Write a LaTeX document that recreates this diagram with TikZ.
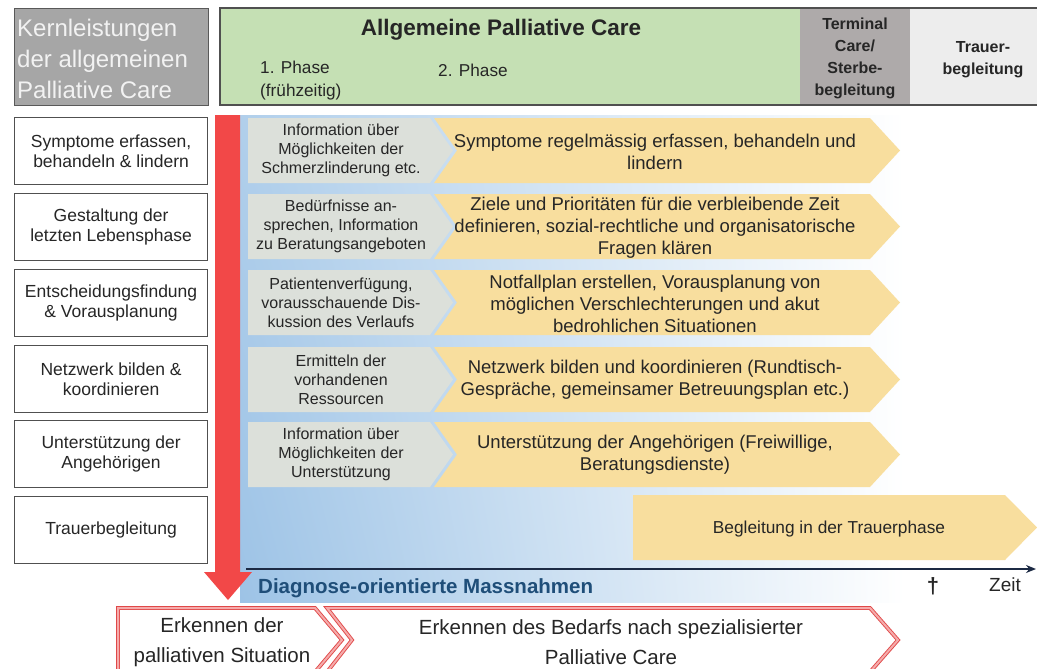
\documentclass[tikz,border=0pt]{standalone}
\usepackage{fontspec}
\setmainfont{Liberation Sans}
\usetikzlibrary{arrows.meta,shadings}
\definecolor{txt}{HTML}{262626}
\definecolor{hdgray}{HTML}{A6A6A6}
\definecolor{hdtext}{HTML}{F2F2F2}
\definecolor{frame}{HTML}{505050}
\definecolor{green1}{HTML}{C5E0B4}
\definecolor{termgray}{HTML}{AEAAAA}
\definecolor{trauergray}{HTML}{EDEDED}
\definecolor{redarrow}{HTML}{F24848}
\definecolor{blueA}{HTML}{9DC3E6}
\definecolor{yel}{HTML}{F8DE9E}
\definecolor{gch}{HTML}{DCE0DA}
\definecolor{navy}{HTML}{1F4E79}
\definecolor{axiscol}{HTML}{1C2A44}
\definecolor{redline}{HTML}{E04848}
\definecolor{pinkline}{HTML}{F5ABAB}
\tikzset{
  leftbox/.style={draw=frame, line width=1.2pt, fill=white, minimum width=193pt, minimum height=67pt, inner sep=0pt, align=center, text=txt, font=\fontsize{17.5}{20}\selectfont},
  graytext/.style={align=center, text=txt, inner sep=0pt, font=\fontsize{16}{19}\selectfont},
  yeltext/.style={align=center, text=txt, inner sep=0pt, font=\fontsize{18.5}{22}\selectfont},
  hdbold/.style={align=center, text=txt, inner sep=0pt, font=\bfseries\fontsize{16}{22}\selectfont},
  bottext/.style={align=center, text=txt, inner sep=0pt, font=\fontsize{20.5}{30}\selectfont},
  redshape/.style={draw=redline, double=pinkline, line width=0.9pt, double distance=2pt, fill=white, line join=miter},
}
\begin{document}
\begin{tikzpicture}[x=1pt,y=-1pt]
\useasboundingbox (0,0) rectangle (1037,669);
\clip (0,0) rectangle (1037,669);
\fill[white] (0,0) rectangle (1037,669);

% ---------- header ----------
\draw[fill=hdgray, draw=gray!70!black, line width=0.8pt] (14,8) rectangle (208,105);
\node[anchor=west, align=left, inner sep=0pt, text=hdtext, font=\fontsize{24}{31}\selectfont] (kern) at (17,59) {Kernleistungen\\der allgemeinen\\Palliative Care};

\fill[green1] (220,8) rectangle (800,105);
\fill[termgray] (800,8) rectangle (910,105);
\fill[trauergray] (910,8) rectangle (1037,105);
\draw[frame, line width=1.2pt] (1037,8) -- (220,8) -- (220,105) -- (1037,105);

\node[inner sep=0pt, text=txt, font=\bfseries\fontsize{22.5}{26}\selectfont] (allg) at (501,30) {Allgemeine Palliative Care};
\node[anchor=west, align=left, inner sep=0pt, text=txt, font=\fontsize{17.2}{23}\selectfont] (ph1) at (260,81) {1. Phase\\(frühzeitig)};
\node[anchor=west, inner sep=0pt, text=txt, font=\fontsize{17.2}{23}\selectfont] (ph2) at (438,70) {2. Phase};
\node[hdbold] (term) at (855,58) {Terminal\\Care/\\Sterbe-\\begleitung};
\node[hdbold] (trauer) at (983,60) {Trauer-\\begleitung};

% ---------- blue background ----------
\shade[upper left=blueA!80!white, lower left=blueA, upper right=white, lower right=white] (240,115) rectangle (905,602);

% ---------- left column ----------
\node[leftbox, anchor=north west] (L1) at (14,117) {Symptome erfassen,\\behandeln \& lindern};
\node[leftbox, anchor=north west] (L2) at (14,193) {Gestaltung der\\letzten Lebensphase};
\node[leftbox, anchor=north west] (L3) at (14,269) {Entscheidungsfindung\\\& Vorausplanung};
\node[leftbox, anchor=north west] (L4) at (14,345) {Netzwerk bilden \&\\koordinieren};
\node[leftbox, anchor=north west] (L5) at (14,420) {Unterstützung der\\Angehörigen};
\node[leftbox, anchor=north west] (L6) at (14,496) {Trauerbegleitung};

% ---------- red arrow ----------
\fill[redarrow] (215,115) -- (240,115) -- (240,572) -- (252,572) -- (228,600) -- (204,572) -- (215,572) -- cycle;

% ---------- chevron rows ----------
\foreach \t in {118,194,270,347,422}{
  \fill[gch] (248,\t) -- (430,\t) -- (453,\t+32.5) -- (430,\t+65) -- (248,\t+65) -- cycle;
  \fill[yel] (434,\t) -- (870,\t) -- (900,\t+32.5) -- (870,\t+65) -- (434,\t+65) -- (457,\t+32.5) -- cycle;
}
\node[graytext] (g1) at (341,150.5) {Information über\\Möglichkeiten der\\Schmerzlinderung etc.};
\node[graytext] (g2) at (341,226.5) {Bedürfnisse an-\\sprechen, Information\\zu Beratungsangeboten};
\node[graytext] (g3) at (341,302.5) {Patientenverfügung,\\vorausschauende Dis-\\kussion des Verlaufs};
\node[graytext] (g4) at (341,379.5) {Ermitteln der\\vorhandenen\\Ressourcen};
\node[graytext] (g5) at (341,454.5) {Information über\\Möglichkeiten der\\Unterstützung};

\node[yeltext] (y1) at (655,152) {Symptome regelmässig erfassen, behandeln und\\lindern};
\node[yeltext] (y2) at (655,228) {Ziele und Prioritäten für die verbleibende Zeit\\definieren, sozial-rechtliche und organisatorische\\Fragen klären};
\node[yeltext] (y3) at (655,304) {Notfallplan erstellen, Vorausplanung von\\möglichen Verschlechterungen und akut\\bedrohlichen Situationen};
\node[yeltext] (y4) at (655,380) {Netzwerk bilden und koordinieren (Rundtisch-\\Gespräche, gemeinsamer Betreuungsplan etc.)};
\node[yeltext] (y5) at (655,455) {Unterstützung der Angehörigen (Freiwillige,\\Beratungsdienste)};

\fill[yel] (633,495) -- (1005,495) -- (1037,527.5) -- (1005,560) -- (633,560) -- cycle;
\node[inner sep=0pt, text=txt, font=\fontsize{17.3}{20}\selectfont] (y6) at (829,529) {Begleitung in der Trauerphase};

% ---------- time axis ----------
\coordinate (ax0) at (246,569);
\coordinate (ax1) at (1036,569);
\draw[axiscol, line width=1.6pt, -{Stealth[length=10pt,width=8pt]}] (ax0) -- (ax1);
\node[anchor=west, inner sep=0pt, text=navy, font=\bfseries\fontsize{20.5}{24}\selectfont] (diag) at (258,588) {Diagnose-orientierte Massnahmen};
\node[inner sep=0pt, text=txt, font=\bfseries\fontsize{22}{24}\selectfont] (cross) at (933,586) {†};
\node[inner sep=0pt, text=txt, font=\fontsize{19}{22}\selectfont] (zeit) at (1005,585) {Zeit};

% ---------- bottom red shapes ----------
\draw[redshape] (327,608) -- (870,608) -- (898,640) -- (870,672) -- (327,672) -- (352,640) -- cycle;
\draw[redshape] (118,608) -- (315,608) -- (342,640) -- (315,672) -- (118,672) -- cycle;
\node[bottext] (b1) at (222,642) {Erkennen der\\palliativen Situation};
\node[bottext] (b2) at (611,642) {Erkennen des Bedarfs nach spezialisierter\\Palliative Care};
\end{tikzpicture}
\end{document}
